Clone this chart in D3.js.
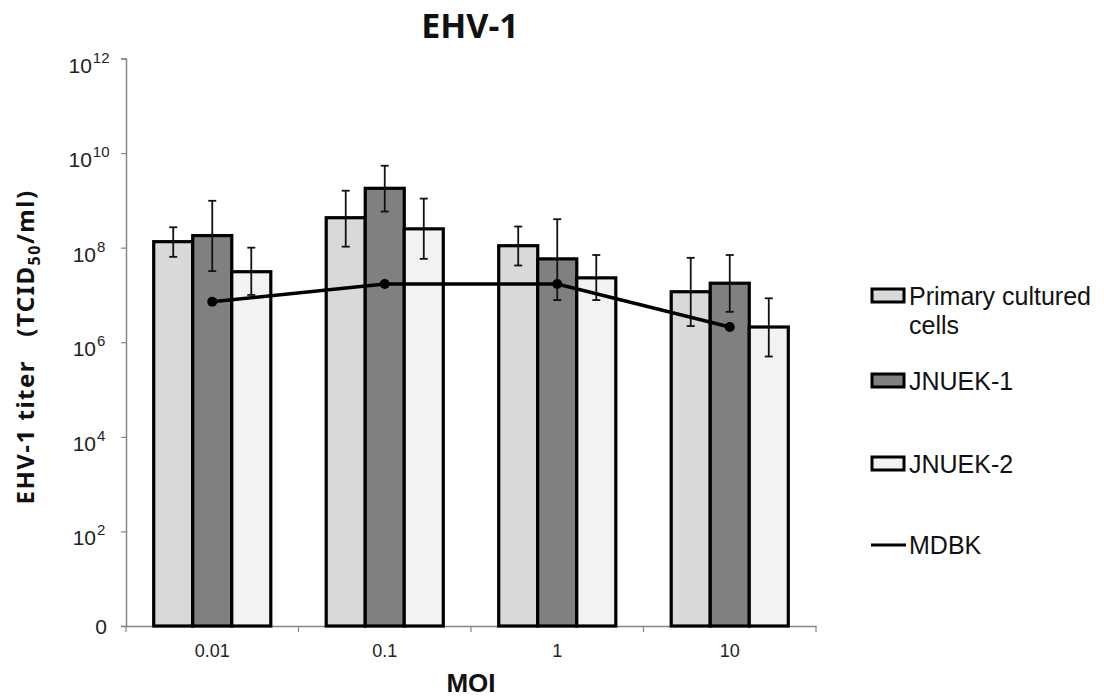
<!DOCTYPE html>
<html>
<head>
<meta charset="utf-8">
<script src="https://cdn.jsdelivr.net/npm/d3@7"></script>
<style>
  body { margin: 0; background: #fff; }
  svg { display: block; }
</style>
</head>
<body>
<svg id="chart" width="1104" height="697"></svg>
<script>
// ── Data ─────────────────────────────────────────────────────────
const moi = ['0.01', '0.1', '1', '10'];

const primary   = [1.34e8, 4.3e8, 1.1e8, 1.17e7];
const primaryHi = [2.7e8, 1.6e9, 2.8e8, 6.1e7];
const primaryLo = [6.4e7, 1.05e8, 4.2e7, 2.2e6];

const jnuek1   = [1.8e8, 1.8e9, 5.8e7, 1.77e7];
const jnuek1Hi = [9.8e8, 5.4e9, 4.0e8, 7.0e7];
const jnuek1Lo = [3.2e7, 5.8e8, 7.8e6, 4.4e6];

const jnuek2   = [3.1e7, 2.5e8, 2.3e7, 2.1e6];
const jnuek2Hi = [1.0e8, 1.09e9, 7.0e7, 8.5e6];
const jnuek2Lo = [1.0e7, 5.8e7, 7.8e6, 5.0e5];

const mdbk = [7.2e6, 1.7e7, 1.7e7, 2.1e6];

const yTicks = [1, 1e2, 1e4, 1e6, 1e8, 1e10, 1e12];

const series = [
  { key: 'Primary cultured cells', values: primary, hi: primaryHi, lo: primaryLo, color: '#d9d9d9' },
  { key: 'JNUEK-1', values: jnuek1, hi: jnuek1Hi, lo: jnuek1Lo, color: '#808080' },
  { key: 'JNUEK-2', values: jnuek2, hi: jnuek2Hi, lo: jnuek2Lo, color: '#f2f2f2' },
];

// ── Layout ───────────────────────────────────────────────────────
const svg = d3.select('#chart');
const plot = { left: 126, right: 816, top: 58.5, bottom: 626 };
const font = '"Liberation Sans", Arial, sans-serif';
const boldFont = '"Noto Sans", "DejaVu Sans", sans-serif';

const x0 = d3.scaleBand().domain(moi).range([plot.left, plot.right]);
const x1 = d3.scaleBand().domain(series.map(s => s.key))
  .range([0, x0.bandwidth()]).paddingOuter(0.71);
const y = d3.scaleLog().domain([1, 1e12]).range([plot.bottom, plot.top]);

// ── Axes ─────────────────────────────────────────────────────────
const axisColor = '#868686';

const yAxis = svg.append('g')
  .attr('transform', `translate(${plot.left},0)`)
  .call(d3.axisLeft(y).tickValues(yTicks).tickSize(5).tickFormat(''));
yAxis.select('.domain').attr('stroke', axisColor).attr('stroke-width', 1.5);
yAxis.selectAll('.tick line').attr('stroke', axisColor).attr('stroke-width', 1.2);

yTicks.forEach(t => {
  const exp = Math.round(Math.log10(t));
  const txt = svg.append('text')
    .attr('font-family', font)
    .attr('font-size', '21px')
    .attr('fill', '#222');
  if (t === 1) {
    txt.attr('x', 107).attr('y', y(t) + 8).attr('text-anchor', 'end').text('0');
  } else {
    txt.attr('x', 89).attr('y', y(t) + 14).attr('text-anchor', 'middle');
    txt.append('tspan').text('10');
    txt.append('tspan').attr('dy', -10).attr('dx', 1).attr('font-size', '15px').text(exp);
  }
});

const xAxis = svg.append('g')
  .attr('transform', `translate(0,${plot.bottom})`)
  .call(d3.axisBottom(x0).tickSize(0).tickFormat(''));
xAxis.select('.domain').attr('stroke', axisColor).attr('stroke-width', 1.5);
xAxis.selectAll('.tick').remove();

// category boundary ticks
const bounds = moi.map(m => x0(m)).concat([plot.right]);
svg.append('g').selectAll('line')
  .data(bounds).enter().append('line')
  .attr('x1', d => d).attr('x2', d => d)
  .attr('y1', plot.bottom).attr('y2', plot.bottom + 6)
  .attr('stroke', axisColor).attr('stroke-width', 1.2);

svg.append('g').selectAll('text')
  .data(moi).enter().append('text')
  .attr('x', d => x0(d) + x0.bandwidth() / 2)
  .attr('y', 657)
  .attr('text-anchor', 'middle')
  .attr('font-family', font)
  .attr('font-size', '18px')
  .attr('fill', '#222')
  .text(d => d);

// ── Bars ─────────────────────────────────────────────────────────
series.forEach(s => {
  svg.append('g').selectAll('rect')
    .data(moi).enter().append('rect')
    .attr('x', (d) => x0(d) + x1(s.key))
    .attr('y', (d, i) => y(s.values[i]))
    .attr('width', x1.bandwidth())
    .attr('height', (d, i) => y(1) - y(s.values[i]))
    .attr('fill', s.color)
    .attr('stroke', '#000')
    .attr('stroke-width', 3.2);
});

// ── Error bars ───────────────────────────────────────────────────
const cap = 4;
series.forEach(s => {
  const g = svg.append('g').attr('stroke', '#111').attr('stroke-width', 1.8);
  moi.forEach((m, i) => {
    const cx = x0(m) + x1(s.key) + x1.bandwidth() / 2;
    g.append('line').attr('x1', cx).attr('x2', cx)
      .attr('y1', y(s.hi[i])).attr('y2', y(s.lo[i]));
    [s.hi[i], s.lo[i]].forEach(v => {
      g.append('line').attr('x1', cx - cap).attr('x2', cx + cap)
        .attr('y1', y(v)).attr('y2', y(v));
    });
  });
});

// ── MDBK line ────────────────────────────────────────────────────
const cxMid = m => x0(m) + x0.bandwidth() / 2;
svg.append('path')
  .datum(mdbk)
  .attr('fill', 'none')
  .attr('stroke', '#000')
  .attr('stroke-width', 3.5)
  .attr('d', d3.line().x((d, i) => cxMid(moi[i])).y(d => y(d)));

svg.append('g').selectAll('circle')
  .data(mdbk).enter().append('circle')
  .attr('cx', (d, i) => cxMid(moi[i]))
  .attr('cy', d => y(d))
  .attr('r', 5)
  .attr('fill', '#000');

// ── Titles ───────────────────────────────────────────────────────
svg.append('text')
  .attr('x', 470).attr('y', 38)
  .attr('text-anchor', 'middle')
  .attr('font-family', boldFont)
  .attr('font-weight', 'bold')
  .attr('font-size', '34px')
  .attr('fill', '#111')
  .text('EHV-1');

svg.append('text')
  .attr('x', 471).attr('y', 692)
  .attr('text-anchor', 'middle')
  .attr('font-family', font)
  .attr('font-weight', 'bold')
  .attr('font-size', '26px')
  .attr('fill', '#111')
  .text('MOI');

const yl = svg.append('text')
  .attr('transform', 'translate(34,347) rotate(-90)')
  .attr('text-anchor', 'middle')
  .attr('font-family', boldFont)
  .attr('font-weight', 'bold')
  .attr('font-size', '24px')
  .attr('letter-spacing', '1.5px')
  .attr('fill', '#111');
yl.append('tspan').text('EHV-1 titer\u00a0\u00a0\u00a0(TCID');
yl.append('tspan').attr('dy', 6).attr('font-size', '16px').text('50');
yl.append('tspan').attr('dy', -6).text('/ml)');

// ── Legend ───────────────────────────────────────────────────────
const legend = svg.append('g').attr('font-family', font).attr('font-size', '25px').attr('fill', '#111');
const legendRows = [
  { lines: ['Primary cultured', 'cells'], color: '#d9d9d9', cy: 295.5, type: 'rect' },
  { lines: ['JNUEK-1'], color: '#808080', cy: 380.5, type: 'rect' },
  { lines: ['JNUEK-2'], color: '#f2f2f2', cy: 463.5, type: 'rect' },
  { lines: ['MDBK'], color: '#000', cy: 545, type: 'line' },
];
legendRows.forEach(r => {
  if (r.type === 'rect') {
    legend.append('rect')
      .attr('x', 872).attr('y', r.cy - 6.5).attr('width', 32).attr('height', 13)
      .attr('fill', r.color).attr('stroke', '#000').attr('stroke-width', 3);
  } else {
    legend.append('line')
      .attr('x1', 871).attr('x2', 906).attr('y1', r.cy).attr('y2', r.cy)
      .attr('stroke', '#000').attr('stroke-width', 3);
  }
  r.lines.forEach((l, j) => {
    legend.append('text')
      .attr('x', 909).attr('y', r.cy + 9 + j * 29)
      .text(l);
  });
});
</script>
</body>
</html>
